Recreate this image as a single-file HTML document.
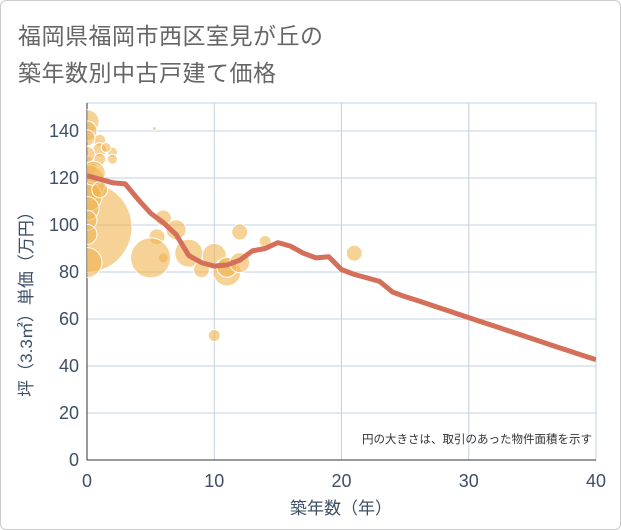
<!DOCTYPE html>
<html><head><meta charset="utf-8"><style>
body{margin:0;background:#fff;font-family:"Liberation Sans","Noto Sans CJK JP",sans-serif}
#wrap{position:relative;width:619px;height:528px;border:1px solid #ccc;border-radius:6px;overflow:hidden}
.t{position:absolute;left:17px;font-size:23px;color:#666;letter-spacing:0.5px}
</style></head><body>
<div id="wrap">
<div class="t" style="top:16px">福岡県福岡市西区室見が丘の</div>
<div class="t" style="top:53px">築年数別中古戸建て価格</div>
<svg id="c" width="621" height="530" style="position:absolute;left:-1px;top:-1px"></svg>
</div>
<script>
const xTicks=[0,10,20,30,40];
const yTicks=[0,20,40,60,80,100,120,140];
const bubbleX=[0,0,0,0,1,1,2,2,0,0,0,0,0,0,0,5.3,6,5.5,7,6,8,9,10,11,11,12,12,14,21,10,5,1,0.5,1,0,1.5];
const bubbleY=[99,84,144,140,136,132,131,128,125,118,112,107,102,96,137,141,103,95,98,86,88,81,87,80,82,84,97,93,88,53,86,128,122,115,130,133];
const bubbleR=[45,15,12,10,6,7,5,5,10,18,15,12,10,10,8,2,8,8,10,5,14,8,12,14,10,10,8,6,8,6,20,6,12,8,8,5];
const lineX=[0,1,2,3,4,5,6,7,8,9,10,11,12,13,14,15,16,17,18,19,20,21,22,23,24,25,26,27,28,29,30,31,32,33,34,35,36,37,38,39,40];
const lineY=[121,119.5,118,117.5,111,105,101,96,87,84,82.5,83,85,89,90,92.5,91,88,86,86.5,81,79,77.5,76,71.5,69.5,67.8,66,64.2,62.4,60.6,58.8,57,55.2,53.4,51.6,49.8,48,46.2,44.4,42.7];
const svg=document.getElementById('c');const NS='http://www.w3.org/2000/svg';
const X0=87,X1=596,Y0=460,YT=103;
const sx=v=>X0+(X1-X0)*v/40, sy=v=>Y0-v*2.35;
const TC='#3d4f66';
function mk(t,a,p){const e=document.createElementNS(NS,t);for(const k in a)e.setAttribute(k,a[k]);(p||svg).appendChild(e);return e;}
const clip=mk('clipPath',{id:'cp'});mk('rect',{x:X0,y:YT,width:X1-X0,height:Y0-YT},clip);
xTicks.forEach(v=>{const l=mk('line',{x1:sx(v),x2:sx(v),y1:YT,y2:Y0,stroke:'#c5d0e0','stroke-width':1});

const t=mk('text',{x:sx(v),y:Y0+27,'text-anchor':'middle','font-size':18,fill:TC});t.textContent=v;
});
yTicks.forEach(v=>{const l=mk('line',{x1:X0,x2:X1,y1:sy(v),y2:sy(v),stroke:'#c5d0e0','stroke-width':1});

const t=mk('text',{x:X0-8,y:sy(v)+6,'text-anchor':'end','font-size':18,fill:TC});t.textContent=v;
});
mk('rect',{x:X0,y:YT,width:X1-X0,height:Y0-YT,fill:'none',stroke:'#c5d0e0'});
mk('line',{x1:X0,x2:X0,y1:YT,y2:Y0,stroke:'#333','stroke-width':1});
mk('line',{x1:X0,x2:X1,y1:Y0,y2:Y0,stroke:'#333','stroke-width':1});
const g=mk('g',{'clip-path':'url(#cp)'});
bubbleX.forEach((v,i)=>{const c=mk('circle',{cx:sx(v),cy:sy(bubbleY[i]),r:bubbleR[i],fill:'rgba(240,180,80,0.6)',stroke:'#fff','stroke-width':1},g);
});
const p=mk('polyline',{points:lineX.map((v,i)=>sx(v)+','+sy(lineY[i])).join(' '),fill:'none',stroke:'#d4705a','stroke-width':5,'stroke-linejoin':'round'},g);

const n=mk('text',{x:592,y:443,'text-anchor':'end','font-size':11.5,fill:'#333'});n.textContent='円の大きさは、取引のあった物件面積を示す';

const xt=mk('text',{x:341,y:514,'text-anchor':'middle','font-size':17,fill:TC});xt.textContent='築年数（年）';

const yt=mk('text',{x:0,y:0,'text-anchor':'middle','font-size':17,fill:TC,transform:'translate(32,300) rotate(-90)'});yt.textContent='坪（3.3㎡）単価（万円）';

</script>
</body></html>
